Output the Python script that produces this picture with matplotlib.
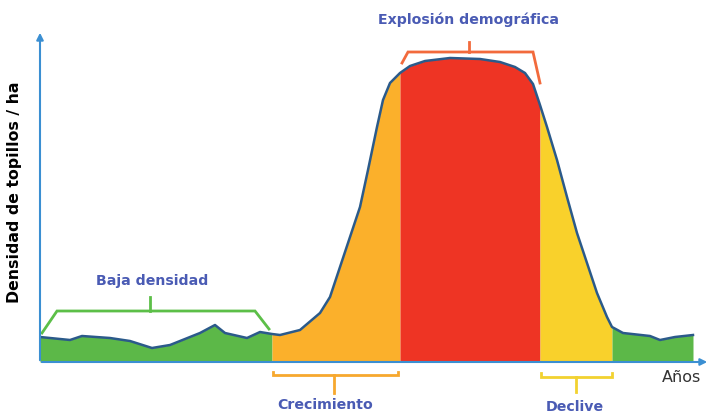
import matplotlib.pyplot as plt
import numpy as np

# curve (x = years, arbitrary units; y = density)
years = [0, 30, 42, 70, 90, 112, 130, 160, 175, 185, 207, 220, 232, 240, 260,
         280, 290, 300, 310, 320, 328, 337, 343, 350, 360, 370, 385, 410, 440,
         460, 475, 485, 493, 500, 507, 517, 527, 537, 547, 557, 567, 572, 583,
         610, 620, 635, 653]
density = [25, 22, 26, 24, 21, 14, 17, 29, 37, 29, 24, 30, 28, 27, 32,
           49, 65, 95, 125, 155, 192, 235, 262, 279, 289, 296, 301, 304, 303,
           300, 295, 289, 278, 257, 235, 202, 165, 129, 99, 69, 45, 35, 29,
           26, 22, 25, 27]

# phase boundaries and colours
phase_edges = [0, 232, 360, 500, 572, 653]
phase_colors = ["#5cb848", "#fbb02b", "#ee3424", "#f9d12b", "#5cb848"]

blue_text = "#4a5bb4"

fig = plt.figure(figsize=(7.1, 4.13), dpi=100)
ax = fig.add_axes([40 / 710, 51 / 413, 670 / 710, 332 / 413])
ax.set_xlim(0, 670)
ax.set_ylim(0, 332)
ax.axis("off")

x = np.array(years)
y = np.array(density)
for i in range(len(phase_colors)):
    a, b = phase_edges[i], phase_edges[i + 1]
    mask = (x >= a) & (x <= b)
    ax.fill_between(x, 0, y, where=mask, color=phase_colors[i], linewidth=0)
ax.plot(x, y, color="#2b5a8a", linewidth=1.8, solid_joinstyle="round")

# axes arrows
axis_col = "#3b8fd2"
ax.annotate("", xy=(0, 332), xytext=(0, -1), annotation_clip=False,
            arrowprops=dict(arrowstyle="-|>", color=axis_col, lw=1.5, mutation_scale=10))
ax.annotate("", xy=(670, 0), xytext=(-1, 0), annotation_clip=False,
            arrowprops=dict(arrowstyle="-|>", color=axis_col, lw=1.5, mutation_scale=10))

# brackets
def bracket(xs, ys, tick, color):
    ax.plot(xs, ys, color=color, lw=2, clip_on=False, solid_joinstyle="miter")
    ax.plot(tick[0], tick[1], color=color, lw=2, clip_on=False)

bracket([2, 17, 215, 229], [29, 51, 51, 33], ([110, 110], [51, 65]), "#5cbf48")
bracket([362, 368, 493, 500], [299, 310, 310, 279], ([429, 429], [310, 320]), "#f26a3c")
bracket([233, 233, 358, 358], [-10, -13, -13, -10], ([294, 294], [-13, -31]), "#f7a82e")
bracket([501, 501, 572, 572], [-11, -15, -15, -11], ([536, 536], [-15, -30]), "#f2d230")

tk = dict(color=blue_text, fontweight="bold", fontsize=10.2, ha="center", va="center")
ax.text(112, 81, "Baja densidad", **tk)
ax.text(428, 342, "Explosión demográfica", clip_on=False, **tk)
ax.text(285, -43, "Crecimiento", clip_on=False, **tk)
ax.text(535, -45, "Declive", clip_on=False, **tk)
ax.text(642, -15, "Años", color="#333333", fontsize=11.5, ha="center", va="center")
fig.text(15 / 710, 1 - 192 / 413, "Densidad de topillos / ha", rotation=90,
         fontsize=11.3, fontweight="bold", ha="center", va="center", color="black")

fig.savefig("out.png", dpi=100)
